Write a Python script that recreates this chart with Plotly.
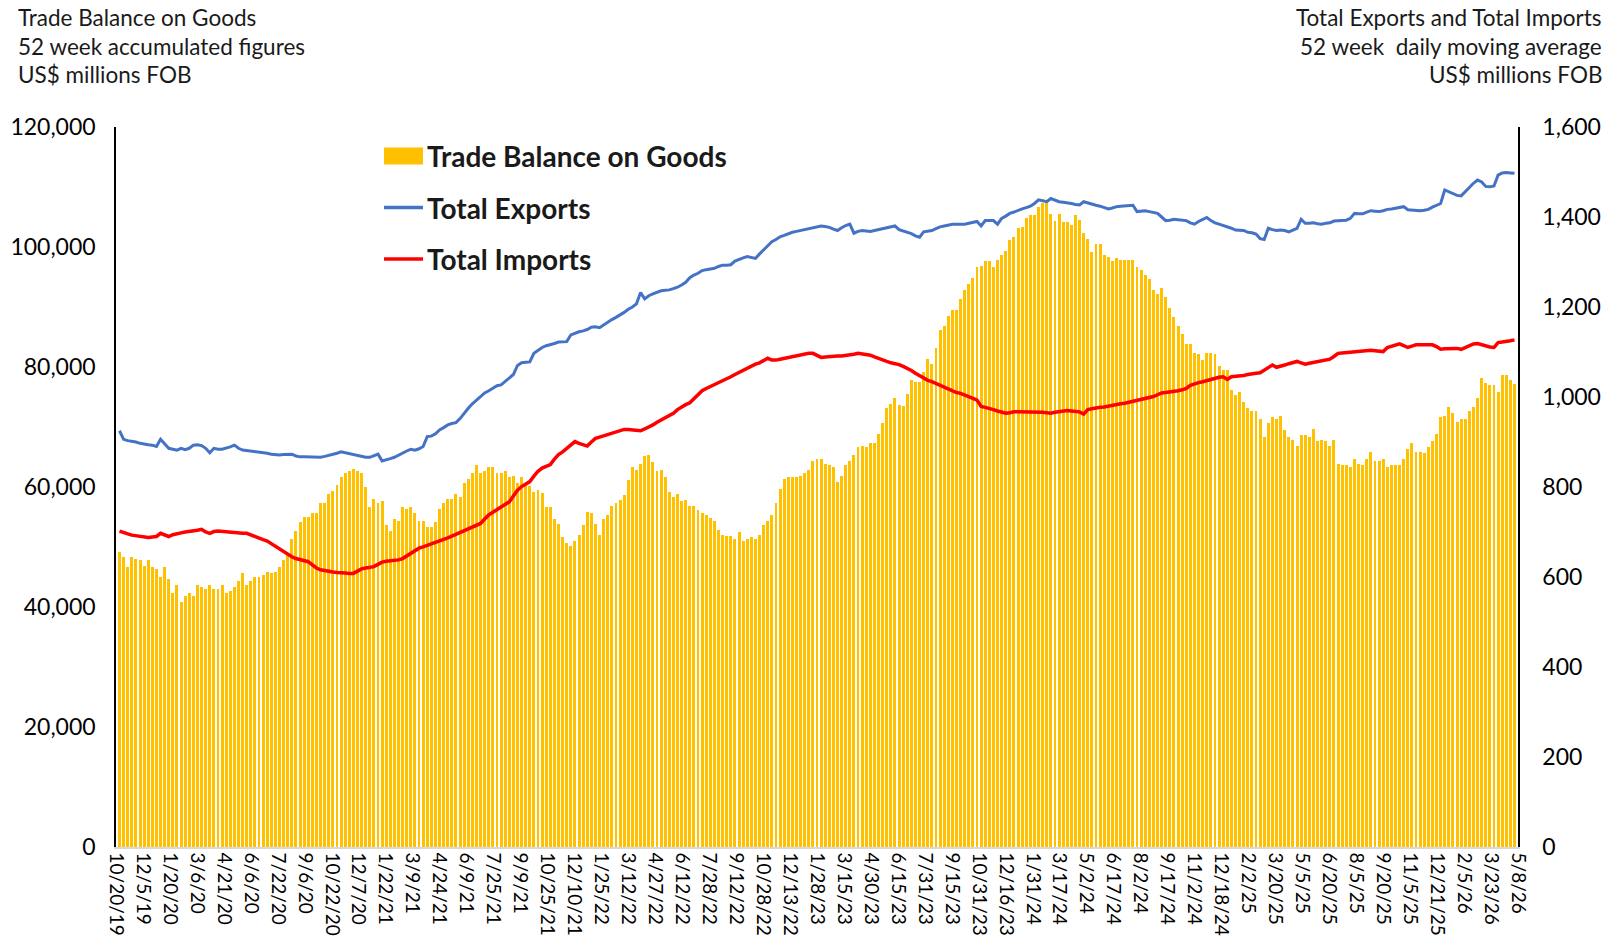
import pandas as pd
import plotly.graph_objects as go

# ---------------- data ----------------
first_week = "2019-10-26"

trade_balance = [
    49200, 48300, 46600, 48300, 48000, 47900, 46900, 47900, 46600, 46300,
    45000, 46600, 44600, 42300, 43600, 40900, 41900, 42300, 41900, 43600,
    43300, 43000, 43600, 43000, 43000, 43600, 42300, 42600, 43300, 44300,
    45600, 43600, 44300, 45000, 45000, 45300, 45900, 45600, 45900, 46600,
    47900, 48900, 51300, 52600, 54200, 55000, 55000, 55600, 55600, 57300,
    57300, 58900, 59300, 60300, 61600, 62300, 62600, 63000, 62600, 62300,
    60000, 56600, 58000, 57300, 57600, 53600, 52600, 54600, 54300, 56600,
    56300, 56600, 55600, 54300, 54300, 53300, 53300, 54200, 56300, 57300,
    58000, 58000, 58800, 58300, 60600, 61300, 62300, 63600, 62300, 62600,
    63300, 63300, 62300,
    62300, 62600, 61600, 61800, 60600, 61600, 60600, 60100, 59200, 59500,
    59000, 56600, 56600, 54600, 53900, 51600, 50600, 50100, 51000, 52000,
    53600, 55900, 55600, 53900, 52000, 54600, 55300, 56900, 57300, 57900,
    58600, 61200, 63300, 62900, 63900, 65100, 65300, 64200, 62600, 62900,
    61600, 59200, 58400, 58800, 57600, 57900, 56900, 56900, 56200, 55600,
    55300, 54900, 54300, 52800, 52000, 51800, 51800, 51300, 52500, 51000,
    51300, 51600, 51300, 52000, 53600, 54300, 55300, 57300, 59600, 61300,
    61600, 61600, 61600, 61900, 62300, 62900, 64300, 64700, 64600, 63900,
    63600, 63300, 60900, 61800, 63600, 64300, 65300, 66600, 66900, 66700,
    67300, 67300, 68900, 70600, 73200, 73900, 74800, 73600,
    73500, 75500, 77800, 77500, 77500, 79200, 81400, 80500, 83100,
    86200, 86800, 88500, 89500, 89500, 91400, 92800, 93800, 94800, 96600,
    96800, 97600, 97600, 96700, 97900, 98700, 99400, 101100, 101700, 103100,
    103400, 104800, 105400, 105400, 106700, 107400, 107400, 105500, 104400, 105500,
    104100, 104100, 103700, 105400, 104500, 102400, 101300, 99200, 100500, 100500,
    98700, 98300, 97600, 98100, 97800, 97800, 97800, 97800, 96700, 96200,
    95300, 94600, 92800, 92200, 93200, 91700, 89800, 88400, 86800, 85500,
    83800, 83800, 82300, 82200, 81200, 82400, 82300, 82200,
    80200, 79500, 79500, 76200, 75300, 75800, 74200, 73100, 72600, 72600,
    71400, 68300, 70600, 71600, 71300, 71800, 69500, 68300, 67900, 66800,
    68600, 68600, 68300, 69600, 67600, 67900, 67600, 66900, 67900, 63800,
    63700, 63700, 63300, 64600, 63900, 63700, 64600, 65900, 64300, 64300,
    64600, 63300, 63600, 63600, 63600, 64600, 66300, 67300, 65900, 65900,
    65600, 66600, 67600, 68900, 71600, 71800, 73300, 72300, 70900, 71300,
    71300, 72600, 73300, 74900, 78200, 77300, 77000, 77000, 75900, 78600,
    78600, 77800, 77200,
]

total_exports = [
    925, 906, 903, 902, 900, 897, 895, 894, 893, 890,
    906, 895, 886, 884, 882, 886, 883, 886, 893, 894,
    892, 886, 876, 886, 884, 884, 886, 889, 893, 886,
    882, 881, 880, 879, 877, 876, 875, 873, 872, 871,
    872, 873, 873, 869, 867, 867, 867, 867, 866, 866,
    868, 870, 873, 875, 878, 876, 873, 871, 869, 867,
    866, 866, 870, 873, 858, 860, 863, 866, 871, 876,
    880, 884, 882, 885, 890, 912, 913, 918, 927, 932,
    938, 941, 943, 952, 964, 975, 985, 993, 1002, 1009,
    1014, 1019, 1025, 1027, 1034, 1041, 1050, 1070, 1076, 1077,
    1078, 1097, 1104, 1110, 1114, 1116, 1119, 1122, 1123, 1123,
    1138, 1142, 1145, 1147, 1150, 1155, 1156, 1154, 1160, 1167,
    1172, 1177, 1182, 1188, 1195, 1200, 1207, 1232, 1218, 1225,
    1229, 1233, 1236, 1237, 1238, 1241, 1244, 1249, 1255, 1265,
    1271, 1275, 1281, 1283, 1285, 1286, 1290, 1293, 1293, 1294,
    1302, 1306, 1309, 1312, 1310, 1308, 1318, 1327, 1338, 1345,
    1350, 1356, 1359, 1363, 1366, 1368, 1370, 1372, 1375, 1377,
    1379, 1380, 1379, 1377, 1373, 1370, 1376, 1381, 1384, 1364,
    1368, 1370, 1369, 1368, 1370, 1372, 1374, 1377, 1378, 1380,
    1372, 1369, 1367, 1363, 1358, 1355, 1367, 1368, 1370, 1374,
    1378, 1380, 1382, 1384, 1384, 1384, 1384, 1386, 1388, 1390,
    1380, 1392, 1392, 1392, 1384, 1397, 1402, 1408, 1411, 1415,
    1418, 1421, 1424, 1430, 1438, 1436, 1434, 1441, 1437, 1434,
    1433, 1432, 1430, 1428, 1427, 1434, 1431, 1429, 1426, 1424,
    1421, 1418, 1420, 1423, 1424, 1425, 1426, 1426, 1412, 1413,
    1414, 1412, 1410, 1408, 1400, 1392, 1393, 1395, 1394, 1393,
    1392, 1387, 1384, 1390, 1394, 1399, 1392, 1387, 1384, 1381,
    1379, 1375, 1371, 1371, 1370, 1366, 1365, 1362, 1352, 1350,
    1375, 1372, 1370, 1371, 1370, 1367, 1371, 1375, 1395, 1386,
    1386, 1387, 1385, 1384, 1386, 1387, 1391, 1392, 1392, 1393,
    1397, 1408, 1407, 1407, 1411, 1414, 1413, 1412, 1414, 1417,
    1418, 1420, 1421, 1423, 1416, 1415, 1414, 1414, 1415, 1417,
    1422, 1426, 1430, 1460, 1456, 1452, 1448, 1447, 1456, 1467,
    1475, 1482, 1478, 1468, 1467, 1469, 1493, 1498, 1499, 1498,
    1497,
]

total_imports = [
    702, 698, 696, 693, 692, 690, 689, 688, 689, 690,
    697, 694, 690, 694, 697, 698, 700, 701, 702, 704,
    706, 700, 697, 701, 702, 701, 701, 700, 699, 697,
    697, 697, 693, 689, 686, 683, 680, 674, 669, 664,
    657, 650, 645, 641, 638, 636, 634, 627, 620, 616,
    614, 612, 611, 610, 610, 609, 608, 608, 613, 618,
    620, 622, 623, 628, 633, 635, 636, 636, 638, 641,
    647, 654, 660, 664, 667, 670, 673, 676, 680, 682,
    687, 691, 695, 698, 701, 706, 711, 715, 719, 729,
    738, 744, 750, 756, 763, 767, 780, 793, 801, 806,
    812, 824, 835, 842, 846, 850, 862, 872, 878, 885,
    893, 901, 897, 893, 891, 900, 908, 911, 914, 916,
    921, 924, 926, 928, 928, 927, 926, 925, 929, 933,
    938, 944, 949, 953, 957, 964, 972, 978, 983, 987,
    996, 1007, 1014, 1019, 1023, 1028, 1032, 1037, 1041, 1045,
    1050, 1055, 1060, 1065, 1070, 1073, 1076, 1081, 1086, 1082,
    1082, 1084, 1086, 1088, 1090, 1092, 1095, 1096, 1097, 1097,
    1092, 1088, 1089, 1090, 1090, 1091, 1091, 1092, 1093, 1095,
    1097, 1096, 1094, 1093, 1089, 1085, 1082, 1079, 1076, 1074,
    1072, 1068, 1064, 1059, 1053, 1048, 1041, 1037, 1034, 1030,
    1026, 1021, 1017, 1014, 1010, 1008, 1005, 1001, 997, 993,
    979, 977, 975, 972, 969, 966, 964, 965, 967, 967,
    967, 967, 967, 967, 967, 966, 965, 964, 966, 967,
    968, 970, 969, 968, 967, 962, 972, 974, 976, 977,
    978, 980, 982, 983, 985, 986, 988, 990, 992, 994,
    996, 998, 1001, 1005, 1009, 1010, 1011, 1012, 1014, 1016,
    1019, 1026, 1030, 1032, 1034, 1037, 1040, 1042, 1044, 1045,
    1039, 1045, 1046, 1046, 1048, 1050, 1052, 1053, 1054, 1060,
    1066, 1071, 1066, 1068, 1071, 1074, 1077, 1079, 1076, 1073,
    1075, 1077, 1079, 1080, 1082, 1084, 1090, 1097, 1098, 1099,
    1100, 1101, 1102, 1103, 1104, 1104, 1103, 1102, 1101, 1110,
    1113, 1116, 1118, 1114, 1110, 1113, 1116, 1116, 1116, 1116,
    1116, 1112, 1106, 1107, 1107, 1108, 1108, 1106, 1110, 1116,
    1118, 1119, 1116, 1112, 1111, 1110, 1121, 1122, 1123, 1125,
    1127,
]

tick_labels = [
    "10/20/19", "12/5/19", "1/20/20", "3/6/20", "4/21/20", "6/6/20", "7/22/20",
    "9/6/20", "10/22/20", "12/7/20", "1/22/21", "3/9/21", "4/24/21", "6/9/21",
    "7/25/21", "9/9/21", "10/25/21", "12/10/21", "1/25/22", "3/12/22", "4/27/22",
    "6/12/22", "7/28/22", "9/12/22", "10/28/22", "12/13/22", "1/28/23", "3/15/23",
    "4/30/23", "6/15/23", "7/31/23", "9/15/23", "10/31/23", "12/16/23", "1/31/24",
    "3/17/24", "5/2/24", "6/17/24", "8/2/24", "9/17/24", "11/2/24", "12/18/24",
    "2/2/25", "3/20/25", "5/5/25", "6/20/25", "8/5/25", "9/20/25", "11/5/25",
    "12/21/25", "2/5/26", "3/23/26", "5/8/26",
]

left_ticks = [0, 20000, 40000, 60000, 80000, 100000, 120000]
right_ticks = [0, 200, 400, 600, 800, 1000, 1200, 1400, 1600]

# ---------------- geometry helpers ----------------
W, H = 1619, 938
L, R, T, B = 116, 1518, 127, 847


def px_x(px):
    return (px - L) / (R - L)


def px_y(py):
    return (B - py) / (B - T)


def weeks(n):
    return pd.date_range(first_week, periods=n, freq="7D")


tick_dates = pd.to_datetime(tick_labels, format="%m/%d/%y")

FONT = "Lato"
TXT = "#1a1a1a"

fig = go.Figure()
fig.add_trace(go.Bar(
    x=weeks(len(trade_balance)), y=trade_balance, name="Trade Balance on Goods",
    marker=dict(color="#FFC000", line=dict(width=0)),
    width=5 * 86400000, yaxis="y", showlegend=False,
))
fig.add_trace(go.Scatter(
    x=weeks(len(total_exports)), y=total_exports, name="Total Exports",
    mode="lines", line=dict(color="#4472C4", width=3), yaxis="y2", showlegend=False,
))
fig.add_trace(go.Scatter(
    x=weeks(len(total_imports)), y=total_imports, name="Total Imports",
    mode="lines", line=dict(color="#FF0000", width=3.5), yaxis="y2", showlegend=False,
))

fig.update_layout(
    width=W, height=H,
    margin=dict(l=L, r=W - R, t=T, b=H - B, pad=0, autoexpand=False),
    paper_bgcolor="white", plot_bgcolor="white",
    font=dict(family=FONT, color=TXT),
    bargap=0,
    xaxis=dict(
        type="date", range=[tick_dates[0], tick_dates[-1]],
        tickmode="array", tickvals=tick_dates, ticktext=tick_labels,
        tickangle=90, tickfont=dict(family=FONT, size=19, color="black"),
        showline=True, linecolor="#d9d9d9", linewidth=1.5,
        showgrid=False, zeroline=False, ticks="", automargin=False,
    ),
    yaxis=dict(
        range=[0, 120000], tickmode="array", tickvals=left_ticks,
        tickformat=",", tickfont=dict(family=FONT, size=23, color="black"),
        showline=True, linecolor="black", linewidth=1.5,
        showgrid=False, zeroline=False, ticks="", ticklabelstandoff=14,
        automargin=False,
    ),
    yaxis2=dict(
        range=[0, 1600], tickmode="array", tickvals=right_ticks,
        tickformat=",", tickfont=dict(family=FONT, size=23, color="black"),
        overlaying="y", side="right",
        showline=True, linecolor="black", linewidth=1.5,
        showgrid=False, zeroline=False, ticks="", ticklabelstandoff=18,
        automargin=False,
    ),
)

# titles
left_title = ["Trade Balance on Goods", "52 week accumulated figures", "US$ millions FOB"]
right_title = ["Total Exports and Total Imports", "52 week  daily moving average", "US$ millions FOB"]
title_y = [17.5, 46.5, 74.3]
for txt, yy in zip(left_title, title_y):
    fig.add_annotation(x=px_x(16), y=px_y(yy), xref="paper", yref="paper",
                       text=txt, showarrow=False, xanchor="left", yanchor="middle",
                       font=dict(family=FONT, size=22.5, color=TXT))
for txt, yy in zip(right_title, title_y):
    fig.add_annotation(x=px_x(1604), y=px_y(yy), xref="paper", yref="paper",
                       text=txt.replace("  ", "&nbsp; "), showarrow=False,
                       xanchor="right", yanchor="middle",
                       font=dict(family=FONT, size=22.5, color=TXT))

# legend (drawn)
leg_x0, leg_x1, leg_tx = 384, 423, 425
rows = [(156, "Trade Balance on Goods", "bar", "#FFC000"),
        (207.5, "Total Exports", "line", "#4472C4"),
        (259, "Total Imports", "line", "#FF0000")]
for yy, txt, kind, col in rows:
    if kind == "bar":
        fig.add_shape(type="rect", xref="paper", yref="paper",
                      x0=px_x(leg_x0), x1=px_x(leg_x1), y0=px_y(yy + 8.5), y1=px_y(yy - 8.5),
                      fillcolor=col, line=dict(width=0))
    else:
        fig.add_shape(type="line", xref="paper", yref="paper",
                      x0=px_x(leg_x0), x1=px_x(leg_x1), y0=px_y(yy), y1=px_y(yy),
                      line=dict(color=col, width=3.5))
    fig.add_annotation(x=px_x(leg_tx), y=px_y(yy), xref="paper", yref="paper",
                       text="<b>" + txt + "</b>", showarrow=False,
                       xanchor="left", yanchor="middle",
                       font=dict(family=FONT, size=28, color=TXT))

fig.write_html("out.html", config={"displayModeBar": False},
               post_script="document.body.style.margin='0';document.body.style.overflow='hidden';")
